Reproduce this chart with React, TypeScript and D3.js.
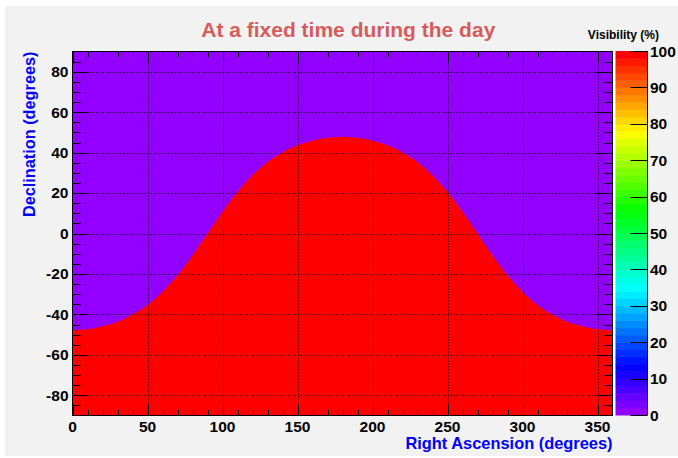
import React from "react";
import * as d3 from "d3";

// Sky coordinates sampled along right ascension (degrees)
const raSamples = [
  0, 5, 10, 15, 20, 25, 30, 35, 40, 45, 50, 55, 60, 65, 70, 75, 80, 85, 90,
  95, 100, 105, 110, 115, 120, 125, 130, 135, 140, 145, 150, 155, 160, 165, 170, 175, 180,
  185, 190, 195, 200, 205, 210, 215, 220, 225, 230, 235, 240, 245, 250, 255, 260, 265, 270,
  275, 280, 285, 290, 295, 300, 305, 310, 315, 320, 325, 330, 335, 340, 345, 350, 355, 360,
];

// Declination (degrees) of the edge of the visible region: 100 % below, 0 % above
const boundaryDec = [
  -47.8, -47.6, -47.3, -46.7, -45.9, -44.9, -43.6, -42.0, -40.1, -37.9, -35.3, -32.3, -28.8, -24.9, -20.6, -15.9, -10.8, -5.5, 0,
  5.5, 10.8, 15.9, 20.6, 24.9, 28.8, 32.3, 35.3, 37.9, 40.1, 42.0, 43.6, 44.9, 45.9, 46.7, 47.3, 47.6, 47.8,
  47.6, 47.3, 46.7, 45.9, 44.9, 43.6, 42.0, 40.1, 37.9, 35.3, 32.3, 28.8, 24.9, 20.6, 15.9, 10.8, 5.5, 0,
  -5.5, -10.8, -15.9, -20.6, -24.9, -28.8, -32.3, -35.3, -37.9, -40.1, -42.0, -43.6, -44.9, -45.9, -46.7, -47.3, -47.6, -47.8,
];

const visibleValue = 100;
const hiddenValue = 0;

const xMajorTicks = [0, 50, 100, 150, 200, 250, 300, 350];
const xMinorTicks = [10, 20, 30, 40, 60, 70, 80, 90, 110, 120, 130, 140, 160, 170, 180, 190, 210, 220, 230, 240, 260, 270, 280, 290, 310, 320, 330, 340, 360];
const yMajorTicks = [-80, -60, -40, -20, 0, 20, 40, 60, 80];
const yMinorTicks = [-85, -75, -70, -65, -55, -50, -45, -35, -30, -25, -15, -10, -5, 5, 10, 15, 25, 30, 35, 45, 50, 55, 65, 70, 75, 85];
const zTicks = [0, 10, 20, 30, 40, 50, 60, 70, 80, 90, 100];

const W = 678;
const H = 458;
const FONT = "'Liberation Sans', Arial, Helvetica, sans-serif";

// Violet -> red spectrum in 50 steps at full saturation
const paletteSize = 50;
const palette = d3.range(paletteSize).map((i) =>
  d3.hsl(280 - (i + 1) * (280 / paletteSize), 1, 0.5).formatHex()
);

const x = d3.scaleLinear().domain([0, 360]).range([72.5, 612.5]);
const y = d3.scaleLinear().domain([-90, 90]).range([415.5, 51.5]);
const z = d3.scaleLinear().domain([0, 100]).range([415, 51]);
const colorOf = (v: number) =>
  palette[Math.min(paletteSize - 1, Math.floor((v / 100) * paletteSize))];

const bar = { x0: 615.5, x1: 647.5 };

export default function App() {
  const area = d3
    .area<number>()
    .x((_, i) => x(raSamples[i]))
    .y0(() => y(-90))
    .y1((d) => y(d))
    .curve(d3.curveMonotoneX);

  const zBands = d3.range(paletteSize).map((i) => ({
    lo: (i * 100) / paletteSize,
    hi: ((i + 1) * 100) / paletteSize,
    color: palette[i],
  }));

  const [xl, xr] = x.range();
  const [yb, yt] = y.range();

  return (
    <svg
      width={W}
      height={H}
      style={{ position: "fixed", left: 0, top: 0, background: "#ffffff" }}
      fontFamily={FONT}
    >
      <rect x={5} y={6} width={W - 5} height={H - 8} fill="#f2f2f2" />

      <text x={348.3} y={36.7} textAnchor="middle" fontSize={21} fontWeight="bold" fill="#d65c5c">
        At a fixed time during the day
      </text>

      {/* histogram body */}
      <rect x={xl} y={yt} width={xr - xl} height={yb - yt} fill={colorOf(hiddenValue)} />
      <path d={area(boundaryDec) || ""} fill={colorOf(visibleValue)} />

      {/* grid */}
      <g stroke="#000" strokeWidth={1} strokeDasharray="1 2">
        {xMajorTicks.filter((v) => v > 0).map((v) => (
          <line key={"gx" + v} x1={Math.round(x(v)) + 0.5} x2={Math.round(x(v)) + 0.5} y1={yt} y2={yb} />
        ))}
        {yMajorTicks.map((v) => (
          <line key={"gy" + v} x1={xl} x2={xr} y1={Math.round(y(v)) + 0.5} y2={Math.round(y(v)) + 0.5} />
        ))}
      </g>

      {/* ticks on all four sides */}
      <g stroke="#000" strokeWidth={1}>
        {xMajorTicks.map((v) => {
          const px = Math.round(x(v)) + 0.5;
          return (
            <g key={"xt" + v}>
              <line x1={px} x2={px} y1={yb} y2={yb - 11} />
              <line x1={px} x2={px} y1={yt} y2={yt + 11} />
            </g>
          );
        })}
        {xMinorTicks.map((v) => {
          const px = Math.round(x(v)) + 0.5;
          return (
            <g key={"xm" + v}>
              <line x1={px} x2={px} y1={yb} y2={yb - 5.5} />
              <line x1={px} x2={px} y1={yt} y2={yt + 5.5} />
            </g>
          );
        })}
        {yMajorTicks.map((v) => {
          const py = Math.round(y(v)) + 0.5;
          return (
            <g key={"yt" + v}>
              <line x1={xl} x2={xl + 16} y1={py} y2={py} />
              <line x1={xr} x2={xr - 16} y1={py} y2={py} />
            </g>
          );
        })}
        {yMinorTicks.map((v) => {
          const py = Math.round(y(v)) + 0.5;
          return (
            <g key={"ym" + v}>
              <line x1={xl} x2={xl + 8} y1={py} y2={py} />
              <line x1={xr} x2={xr - 8} y1={py} y2={py} />
            </g>
          );
        })}
      </g>

      <rect x={xl} y={yt} width={xr - xl} height={yb - yt} fill="none" stroke="#000" strokeWidth={1} />
      <rect x={xr + 0.5} y={yt - 0.5} width={2.5} height={yb - yt + 1} fill="#ffffff" />

      {/* axis labels */}
      <g fontSize={15.5} fontWeight="bold" fill="#000">
        {xMajorTicks.map((v) => (
          <text key={"xl" + v} x={x(v)} y={432} textAnchor="middle">
            {v}
          </text>
        ))}
        {yMajorTicks.map((v) => (
          <text key={"yl" + v} x={68.5} y={y(v) + 5.4} textAnchor="end">
            {v}
          </text>
        ))}
      </g>

      <text x={xr} y={449} textAnchor="end" fontSize={16.4} fontWeight="bold" fill="#0000ff">
        Right Ascension (degrees)
      </text>
      <text
        transform={`translate(35, ${yt}) rotate(-90)`}
        textAnchor="end"
        fontSize={16.3}
        fontWeight="bold"
        fill="#0000ff"
      >
        Declination (degrees)
      </text>

      {/* colour scale */}
      {zBands.map((b, i) => (
        <rect
          key={"zb" + i}
          x={bar.x0}
          y={z(b.hi)}
          width={bar.x1 - bar.x0}
          height={z(b.lo) - z(b.hi) + 0.5}
          fill={b.color}
        />
      ))}
      <line x1={bar.x1} x2={bar.x1} y1={z(100)} y2={z(0)} stroke="#000" strokeWidth={1} />
      <g stroke="#000" strokeWidth={1}>
        {zTicks.map((v) => (
          <line key={"zt" + v} x1={bar.x1} x2={bar.x1 - 17} y1={Math.round(z(v)) + 0.5} y2={Math.round(z(v)) + 0.5} />
        ))}
      </g>
      <g fontSize={15.5} fontWeight="bold" fill="#000">
        {zTicks.map((v) => (
          <text key={"zl" + v} x={650} y={z(v) + 5.5} textAnchor="start">
            {v}
          </text>
        ))}
      </g>
      <text x={659} y={39} textAnchor="end" fontSize={12} fontWeight="bold" fill="#000">
        Visibility (%)
      </text>
    </svg>
  );
}
